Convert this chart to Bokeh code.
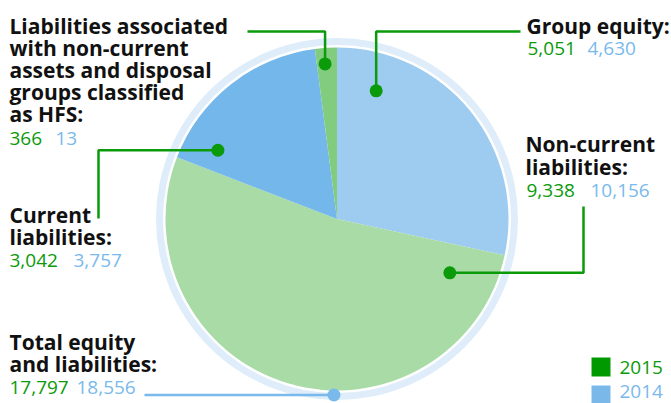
import math
from bokeh.plotting import figure
from bokeh.models import Range1d
from bokeh.core.properties import value
from bokeh.embed import file_html
from bokeh.resources import INLINE

# ---- data ----
categories = ["Group equity", "Non-current liabilities", "Current liabilities",
              "Liabilities associated with non-current assets and disposal groups classified as HFS"]
values_2015 = [5051, 9338, 3042, 366]
values_2014 = [4630, 10156, 3757, 13]
total_2015 = 17797
total_2014 = 18556
years = ["2015", "2014"]

# ---- style ----
slice_colors = ["#9ecbf0", "#a8dba5", "#74b7ea", "#82cc80"]
GREEN = "#0a9a0a"
BLUE = "#7ab9ec"
RING = "#deedf9"
FONT = "Open Sans"
FS_T = "21px"
FS_V = "19px"
TDY = 7  # baseline correction

W, H = 671, 403
p = figure(width=W, height=H, output_backend="svg", toolbar_location=None,
           x_range=Range1d(0, W), y_range=Range1d(0, H), min_border=0)
p.axis.visible = False
p.grid.visible = False
p.outline_line_color = None
p.background_fill_color = "white"
p.border_fill_color = "white"

def Y(sy):
    return H - sy

cx, cy = 336.5, Y(218.5)
R = 171.5

# outer ring
p.annulus(x=cx, y=cy, inner_radius=R + 2.5, outer_radius=R + 9.5, fill_color=RING, line_color=None)

# pie (clockwise from top)
total = sum(values_2015)
cum = 0.0
starts, ends = [], []
for v in values_2015:
    c0 = cum / total
    cum += v
    c1 = cum / total
    starts.append(math.radians(90 - 360 * c1))
    ends.append(math.radians(90 - 360 * c0))
p.wedge(x=[cx] * 4, y=[cy] * 4, radius=R, start_angle=starts, end_angle=ends,
        fill_color=slice_colors, line_color=None)

# callout anchors (polar around pie centre: clockwise deg from top, radius)
def polar(deg, r):
    a = math.radians(deg)
    return cx + r * math.sin(a), cy + r * math.cos(a)

anchors = {
    "ge": polar(17, 134),
    "nc": polar(115.5, 125),
    "cl": polar(300, 137.5),
    "hfs": polar(355.6, 155.5),
    "tot": polar(181, 176),
}

def leader(pts, color):
    p.line([q[0] for q in pts], [q[1] for q in pts], line_color=color, line_width=2.5)

ax, ay = anchors["hfs"]
leader([(247, Y(31)), (ax, Y(31)), (ax, ay)], GREEN)
ax, ay = anchors["ge"]
leader([(520, Y(31)), (ax, Y(31)), (ax, ay)], GREEN)
ax, ay = anchors["cl"]
leader([(98, Y(218)), (98, ay), (ax, ay)], GREEN)
ax, ay = anchors["nc"]
leader([(583, Y(206)), (583, ay), (ax, ay)], GREEN)
ax, ay = anchors["tot"]
leader([(144, ay), (ax, ay)], BLUE)

gx = [anchors[k][0] for k in ["ge", "nc", "cl", "hfs"]]
gy = [anchors[k][1] for k in ["ge", "nc", "cl", "hfs"]]
p.scatter(gx, gy, size=13, fill_color=GREEN, line_color=None)
p.scatter([anchors["tot"][0]], [anchors["tot"][1]], size=13, fill_color=BLUE, line_color=None)

def fmt(n):
    return f"{n:,}"

def title(x, y, txt):
    p.text(x=[x], y=[Y(y - TDY)], text=[txt], text_font=value(FONT), text_font_style="bold",
           text_font_size=FS_T, text_color="#111111", text_baseline="alphabetic")

def vals(x, y, a, b, xb):
    p.text(x=[x], y=[Y(y - TDY)], text=[a], text_font=value(FONT), text_font_size=FS_V,
           text_color=GREEN, text_baseline="alphabetic")
    p.text(x=[xb], y=[Y(y - TDY)], text=[b], text_font=value(FONT), text_font_size=FS_V,
           text_color=BLUE, text_baseline="alphabetic")

# HFS
for i, t in enumerate(["Liabilities associated", "with non-current", "assets and disposal",
                       "groups classified", "as HFS:"]):
    title(9, 32 + 22 * i, t)
vals(9, 145, fmt(values_2015[3]), fmt(values_2014[3]), 55)

# Group equity
title(526, 32, "Group equity:")
vals(527, 55, fmt(values_2015[0]), fmt(values_2014[0]), 587)

# Non-current
title(525, 150, "Non-current")
title(525, 173, "liabilities:")
vals(526, 197, fmt(values_2015[1]), fmt(values_2014[1]), 590)

# Current
title(9, 221, "Current")
title(9, 243, "liabilities:")
vals(9, 267, fmt(values_2015[2]), fmt(values_2014[2]), 73)

# Total
title(9, 348, "Total equity")
title(9, 370, "and liabilities:")
vals(9, 394, fmt(total_2015), fmt(total_2014), 76)

# legend
p.rect(x=[600.5, 600.5], y=[Y(366.5), Y(394.5)], width=19, height=19,
       fill_color=["#009900", "#7ab8ea"], line_color=None)
p.text(x=[619, 619], y=[Y(374 - TDY), Y(398 - TDY)], text=years, text_font=value(FONT),
       text_font_size=FS_V, text_color=[GREEN, BLUE], text_baseline="alphabetic")

open("out.html", "w").write(file_html(p, INLINE))
